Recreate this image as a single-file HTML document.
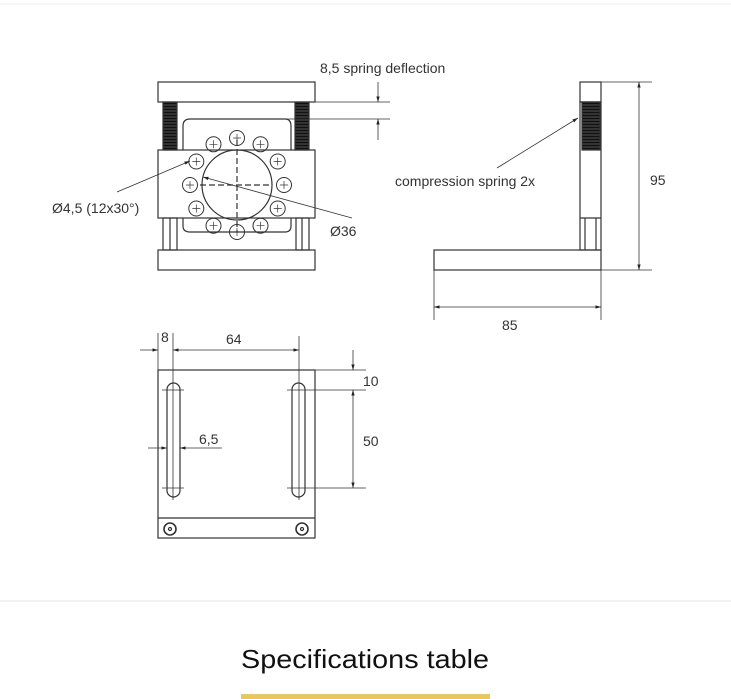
<!DOCTYPE html>
<html><head><style>
body{margin:0;background:#fff;width:731px;height:699px;overflow:hidden;font-family:"Liberation Sans",sans-serif}
svg{position:absolute;left:0;top:0}
</style></head><body>
<svg width="731" height="699" viewBox="0 0 731 699" xmlns="http://www.w3.org/2000/svg">
<defs>
<marker id="a" viewBox="0 0 10 10" refX="10" refY="5" markerWidth="7" markerHeight="7" orient="auto-start-reverse"><path d="M0,2 L10,5 L0,8z" fill="#222"/></marker>
<pattern id="sp" width="14" height="3" patternUnits="userSpaceOnUse"><rect width="14" height="3" fill="#333"/><rect y="1" width="14" height="1" fill="#111"/></pattern>
<g id="h"><circle r="7.5"/><path d="M-4,0 H4 M0,-4 V4" stroke-width="0.7"/></g>
</defs>
<line x1="0" y1="4" x2="731" y2="4" stroke="#eee"/>
<line x1="0" y1="601" x2="731" y2="601" stroke="#e6e6e6"/>
<g stroke="#333" stroke-width="1.2" fill="none">
<rect x="158" y="82" width="157" height="20"/>
<rect x="163" y="102" width="14" height="48" fill="url(#sp)"/>
<rect x="295" y="102" width="14" height="48" fill="url(#sp)"/>
<rect x="158" y="150" width="157" height="68"/>
<path d="M183,150 V126 Q183,119 190,119 H285 Q291,119 291,126 V150"/>
<path d="M183,218 V226 Q183,232 190,232 H285 Q291,232 291,226 V218"/>
<rect x="163" y="218" width="14" height="32"/><line x1="170" y1="218" x2="170" y2="250"/>
<rect x="296" y="218" width="13" height="32"/><line x1="302" y1="218" x2="302" y2="250"/>
<rect x="158" y="250" width="157" height="20"/>
<circle cx="237" cy="185" r="35"/>
<line x1="237" y1="140" x2="237" y2="232" stroke-dasharray="6,3"/>
<line x1="200" y1="185" x2="272" y2="185" stroke-dasharray="6,3"/>
<g stroke-width="1">
<use href="#h" x="237" y="138"/><use href="#h" x="260.5" y="144.3"/><use href="#h" x="277.7" y="161.5"/><use href="#h" x="284" y="185"/><use href="#h" x="277.7" y="208.5"/><use href="#h" x="260.5" y="225.7"/><use href="#h" x="237" y="232"/><use href="#h" x="213.5" y="225.7"/><use href="#h" x="196.3" y="208.5"/><use href="#h" x="190" y="185"/><use href="#h" x="196.3" y="161.5"/><use href="#h" x="213.5" y="144.3"/>
</g>
<line x1="315" y1="102" x2="390" y2="102" stroke-width="0.8"/>
<line x1="285" y1="119" x2="390" y2="119" stroke-width="0.8"/>
<line x1="378" y1="82" x2="378" y2="102" stroke-width="0.8" marker-end="url(#a)"/>
<line x1="378" y1="140" x2="378" y2="119" stroke-width="0.8" marker-end="url(#a)"/>
<line x1="117" y1="192" x2="190" y2="161" stroke-width="0.8" marker-end="url(#a)"/>
<line x1="352" y1="218" x2="203" y2="177" stroke-width="0.8" marker-end="url(#a)"/>
<rect x="580" y="82" width="21" height="20"/>
<rect x="582" y="102" width="18" height="48" fill="url(#sp)"/>
<rect x="580" y="102" width="21" height="148"/>
<line x1="580" y1="218" x2="601" y2="218"/><line x1="585" y1="218" x2="585" y2="250"/><line x1="596" y1="218" x2="596" y2="250"/>
<rect x="434" y="250" width="167" height="20"/>
<line x1="601" y1="82" x2="652" y2="82" stroke-width="0.8"/>
<line x1="601" y1="270" x2="652" y2="270" stroke-width="0.8"/>
<line x1="639" y1="82" x2="639" y2="270" stroke-width="0.8" marker-start="url(#a)" marker-end="url(#a)"/>
<line x1="434" y1="270" x2="434" y2="320" stroke-width="0.8"/>
<line x1="601" y1="270" x2="601" y2="320" stroke-width="0.8"/>
<line x1="434" y1="307" x2="601" y2="307" stroke-width="0.8" marker-start="url(#a)" marker-end="url(#a)"/>
<polyline points="497,168 578,118" stroke-width="0.8" marker-end="url(#a)"/>
<rect x="158" y="370" width="157" height="168"/>
<line x1="158" y1="518" x2="315" y2="518"/>
<rect x="167" y="383" width="13" height="114" rx="6.5"/>
<rect x="292" y="383" width="13" height="114" rx="6.5"/>
<circle cx="170" cy="529" r="6" stroke-width="1.6"/><circle cx="170" cy="529" r="1.5"/>
<circle cx="302" cy="529" r="6" stroke-width="1.6"/><circle cx="302" cy="529" r="1.5"/>
<g stroke-width="0.8">
<line x1="158" y1="333" x2="158" y2="370"/>
<line x1="173" y1="333" x2="173" y2="500"/>
<line x1="299" y1="336" x2="299" y2="500"/>
<line x1="140" y1="350" x2="158" y2="350" marker-end="url(#a)"/>
<line x1="173" y1="350" x2="299" y2="350" marker-start="url(#a)" marker-end="url(#a)"/>
<line x1="162" y1="390" x2="184" y2="390"/><line x1="162" y1="488" x2="184" y2="488"/>
<line x1="287" y1="390" x2="366" y2="390"/><line x1="287" y1="488" x2="366" y2="488"/>
<line x1="315" y1="370" x2="366" y2="370"/>
<line x1="353" y1="350" x2="353" y2="370" marker-end="url(#a)"/>
<line x1="353" y1="390" x2="353" y2="488" marker-start="url(#a)" marker-end="url(#a)"/>
<line x1="148" y1="448" x2="167" y2="448" marker-end="url(#a)"/>
<line x1="222" y1="448" x2="180" y2="448" marker-end="url(#a)"/>
</g>
</g>
<g fill="#333" font-size="14" font-family="Liberation Sans, sans-serif">
<text x="320" y="73">8,5 spring deflection</text>
<text x="52" y="213">Ø4,5 (12x30°)</text>
<text x="330" y="236">Ø36</text>
<text x="395" y="186">compression spring 2x</text>
<text x="650" y="185">95</text>
<text x="502" y="330">85</text>
<text x="161" y="342">8</text>
<text x="226" y="344">64</text>
<text x="363" y="386">10</text>
<text x="363" y="446">50</text>
<text x="199" y="444">6,5</text>
</g>
<text x="241" y="668" font-size="26" fill="#111" font-family="Liberation Sans, sans-serif" textLength="248" lengthAdjust="spacingAndGlyphs">Specifications table</text>
<rect x="241" y="694" width="249" height="5" fill="#e9c75a"/>
</svg>
</body></html>
